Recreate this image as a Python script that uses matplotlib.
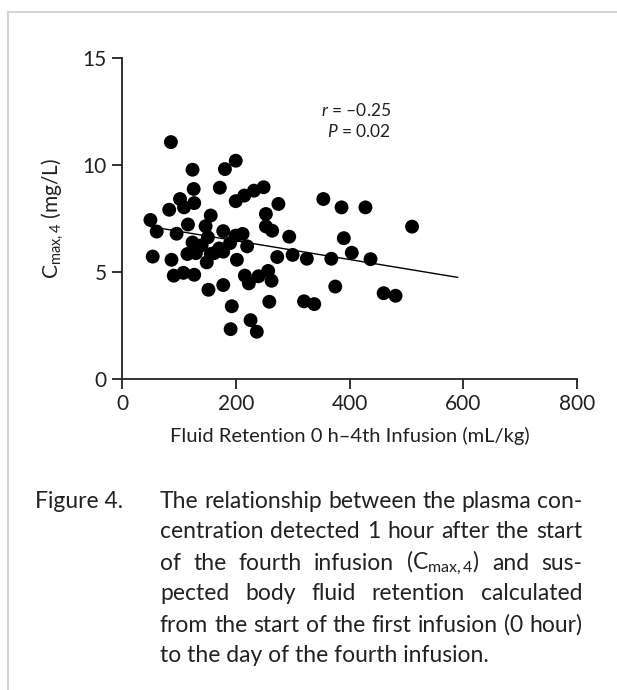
import matplotlib
matplotlib.use('Agg')
import matplotlib.pyplot as plt
from matplotlib.lines import Line2D

plt.rcParams['font.family'] = ['Lato', 'DejaVu Sans']
plt.rcParams['mathtext.fontset'] = 'custom'
plt.rcParams['mathtext.rm'] = 'Lato'
plt.rcParams['mathtext.it'] = 'Lato:italic'

# ---------------- data ----------------
fluid_retention = [86, 124, 200, 181, 126, 172, 200, 215, 232, 249, 275, 102, 127, 109, 83,
                   50, 61, 96, 116, 156, 147, 178, 200, 212, 253, 253, 264, 220, 54, 87,
                   115, 130, 149, 162, 178, 202, 273, 91, 108, 127, 152, 178, 216, 223, 240,
                   257, 263, 259, 193, 191, 226, 237, 294, 354, 386, 428, 510, 390, 404, 437,
                   368, 325, 300, 320, 338, 375, 460, 481, 151, 124, 156, 171, 140, 190]
cmax4 = [11.07, 9.78, 10.2, 9.81, 8.88, 8.94, 8.31, 8.57, 8.80, 8.96, 8.18, 8.41, 8.22, 8.02, 7.91,
         7.43, 6.89, 6.79, 7.22, 7.64, 7.14, 6.91, 6.70, 6.78, 7.71, 7.13, 6.93, 6.2, 5.72, 5.57,
         5.84, 5.88, 5.45, 5.88, 5.95, 5.57, 5.7, 4.83, 4.96, 4.87, 4.17, 4.39, 4.83, 4.47, 4.8,
         5.05, 4.59, 3.61, 3.4, 2.33, 2.75, 2.21, 6.65, 8.41, 8.02, 8.02, 7.12, 6.58, 5.9, 5.6,
         5.62, 5.62, 5.8, 3.63, 3.5, 4.32, 4.01, 3.89, 6.62, 6.38, 5.84, 6.1, 6.25, 6.35]
fit_x = [50, 590]
fit_y = [7.12, 4.75]
xticks = [0, 200, 400, 600, 800]
yticks = [0, 5, 10, 15]
stat_lines = ['$r$ = \u20130.25', '$P$ = 0.02']
xlabel = 'Fluid Retention 0 h\u20134th Infusion (mL/kg)'
ylabel = 'C$_{\\mathrm{max,4}}$ (mg/L)'
caption_head = 'Figure 4.'
caption_lines = [
    'The relationship between the plasma con-',
    'centration detected 1 hour after the start',
    'of the fourth infusion (C$_{\\mathrm{max,4}}$) and sus-',
    'pected body fluid retention calculated',
    'from the start of the first infusion (0 hour)',
    'to the day of the fourth infusion.',
]

# ---------------- figure ----------------
W, H = 617, 690
fig = plt.figure(figsize=(W / 100, H / 100), dpi=100)
fig.patch.set_facecolor('white')

ax = fig.add_axes([122 / W, 1 - 379 / H, 455 / W, 321 / H])
ax.scatter(fluid_retention, cmax4, s=100, c='black', edgecolors='none', zorder=3)
ax.plot(fit_x, fit_y, color='black', lw=1.0, zorder=2)
ax.set_xlim(0, 800)
ax.set_ylim(0, 15)
ax.set_xticks(xticks)
ax.set_yticks(yticks)
for s in ['top', 'right']:
    ax.spines[s].set_visible(False)
for s in ['left', 'bottom']:
    ax.spines[s].set_linewidth(1.3)
    ax.spines[s].set_color('#222222')
ax.tick_params(length=7, width=1.3, labelsize=15, pad=4, colors='#222222')
ax.set_xlabel(xlabel, fontsize=14.5, labelpad=9, color='#222222')
ax.set_ylabel(ylabel, fontsize=15, labelpad=12, color='#222222')

ax.text(0.592, 0.835, stat_lines[0], transform=ax.transAxes, ha='right', va='center',
        fontsize=12.5, color='#222222')
ax.text(0.592, 0.772, stat_lines[1], transform=ax.transAxes, ha='right', va='center',
        fontsize=12.5, color='#222222')

# frame lines (top and left edge of a box)
fig.add_artist(Line2D([8 / W, 1], [1 - 12 / H, 1 - 12 / H], transform=fig.transFigure,
                      color='#d4d4d4', lw=1.5))
fig.add_artist(Line2D([8 / W, 8 / W], [0, 1 - 12 / H], transform=fig.transFigure,
                      color='#d4d4d4', lw=1.5))

# caption with justified lines
cap_fs = 16.5
renderer = fig.canvas.get_renderer()
left_px, right_px = 160, 582
y0, dy = 501, 31.0
fig.text(35 / W, 1 - y0 / H, caption_head, fontsize=cap_fs, va='center', ha='left',
         color='#222222')
for i, line in enumerate(caption_lines):
    yc = 1 - (y0 + i * dy) / H
    if i == len(caption_lines) - 1:
        fig.text(left_px / W, yc, line, fontsize=cap_fs, va='center', ha='left', color='#222222')
        continue
    words = line.split(' ')
    texts = [fig.text(0, yc, w, fontsize=cap_fs, va='center', ha='left', color='#222222')
             for w in words]
    widths = [t.get_window_extent(renderer).width for t in texts]
    gap = (right_px - left_px - sum(widths)) / (len(words) - 1)
    xp = left_px
    for t, wd in zip(texts, widths):
        t.set_x(xp / W)
        xp += wd + gap

fig.savefig('out.png', dpi=100, facecolor='white')
